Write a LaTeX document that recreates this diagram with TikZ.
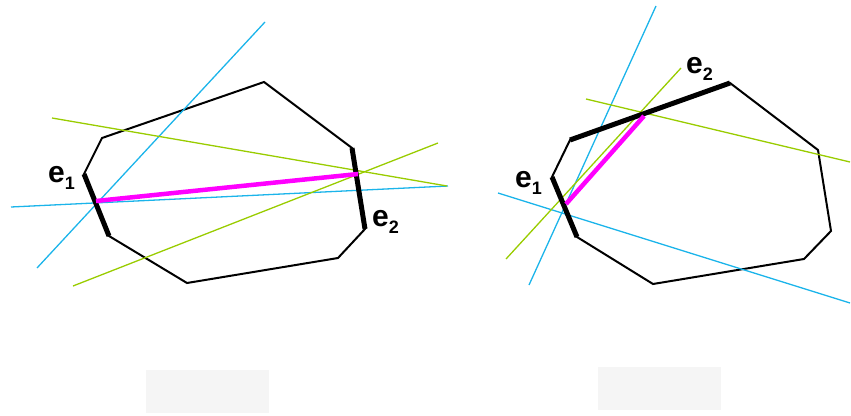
\documentclass[tikz,border=0pt]{standalone}
\usepackage{fontspec}
\setmainfont{Liberation Sans}
\usetikzlibrary{positioning}

\definecolor{lineblue}{HTML}{1BB4EA}
\definecolor{linegreen}{HTML}{99CC00}
\definecolor{pathpink}{HTML}{FF00FF}
\definecolor{boxgray}{HTML}{F5F5F5}

\newcommand{\edgelabel}[1]{e\raisebox{-7pt}{\fontsize{18}{20}\selectfont #1}}

\begin{document}
\begin{tikzpicture}[
        x=1pt, y=-1pt,
        poly/.style={draw=black, line width=2pt, line join=miter},
        edge/.style={draw=black, line width=5pt},
        chord/.style={draw=pathpink, line width=4.5pt},
        blueline/.style={draw=lineblue, line width=1.3pt},
        greenline/.style={draw=linegreen, line width=1.3pt},
        lbl/.style={font=\fontsize{30}{32}\selectfont\bfseries, inner sep=0pt, anchor=base west},
        blank/.style={fill=boxgray, draw=none}
    ]
        \useasboundingbox (0,0) rectangle (851,415);

        % left polygon
        \coordinate (la) at (264,82);
        \coordinate (lb) at (352,148);
        \coordinate (lc) at (365,229);
        \coordinate (ld) at (338,258);
        \coordinate (le) at (187,283);
        \coordinate (lf) at (109,236);
        \coordinate (lg) at (84,174);
        \coordinate (lh) at (102,138);
        \draw[poly] (la) -- (lb) -- (lc) -- (ld) -- (le) -- (lf) -- (lg) -- (lh) -- cycle;

        % left lines
        \coordinate (lb1s) at (265,22);  \coordinate (lb1e) at (37,268);
        \coordinate (lb2s) at (11,207);  \coordinate (lb2e) at (448,186);
        \coordinate (lg1s) at (52,118);  \coordinate (lg1e) at (447,186);
        \coordinate (lg2s) at (73,286);  \coordinate (lg2e) at (438,143);
        \draw[blueline] (lb1s) -- (lb1e);
        \draw[blueline] (lb2s) -- (lb2e);
        \draw[greenline] (lg1s) -- (lg1e);
        \draw[greenline] (lg2s) -- (lg2e);

        \draw[edge] (lg) -- (lf);
        \draw[edge] (lb) -- (lc);
        \coordinate (lp) at (96,201);
        \coordinate (lq) at (358,174);
        \draw[chord] (lp) -- (lq);

        \node[lbl] (le1) at (48,182) {\edgelabel{1}};
        \node[lbl] (le2) at (372,226) {\edgelabel{2}};

        % right polygon
        \coordinate (ra) at (730,83);
        \coordinate (rb) at (818,150);
        \coordinate (rc) at (831,231);
        \coordinate (rd) at (804,259);
        \coordinate (re) at (653,284);
        \coordinate (rf) at (577,237);
        \coordinate (rg) at (552,177);
        \coordinate (rh) at (570,140);
        \draw[poly] (ra) -- (rb) -- (rc) -- (rd) -- (re) -- (rf) -- (rg) -- (rh) -- cycle;

        % right lines
        \coordinate (rb1s) at (656,6);   \coordinate (rb1e) at (529,285);
        \coordinate (rb2s) at (498,193); \coordinate (rb2e) at (850,303);
        \coordinate (rg1s) at (586,99);  \coordinate (rg1e) at (850,162);
        \coordinate (rg2s) at (681,68);  \coordinate (rg2e) at (506,259);
        \draw[blueline] (rb1s) -- (rb1e);
        \draw[blueline] (rb2s) -- (rb2e);
        \draw[greenline] (rg1s) -- (rg1e);
        \draw[greenline] (rg2s) -- (rg2e);

        \draw[edge] (rg) -- (rf);
        \draw[edge] (rh) -- (ra);
        \coordinate (rp) at (566,204);
        \coordinate (rq) at (644,116);
        \draw[chord] (rp) -- (rq);

        \node[lbl] (re1) at (515,187) {\edgelabel{1}};
        \node[lbl] (re2) at (686,73) {\edgelabel{2}};

        % blank boxes
        \node[blank, minimum width=123pt, minimum height=43pt] (lbox) at (207.5,391.5) {};
        \node[blank, minimum width=123pt, minimum height=43pt] (rbox) at (659.5,388.5) {};
    \end{tikzpicture}
\end{document}
